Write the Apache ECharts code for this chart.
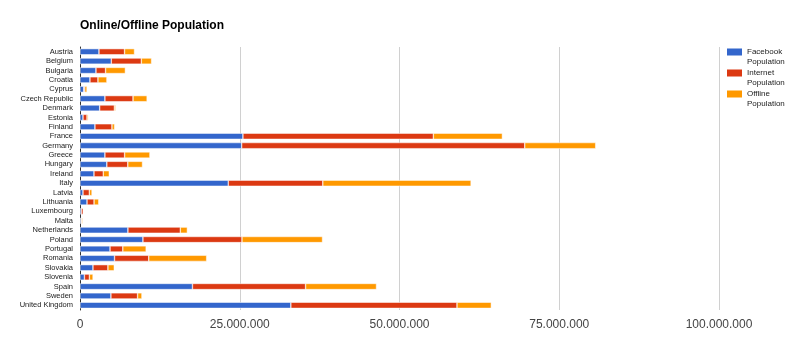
<!DOCTYPE html>
<html>
<head>
<meta charset="utf-8">
<script src="https://cdn.jsdelivr.net/npm/echarts@6/dist/echarts.min.js"></script>
<style>
  html, body { margin: 0; padding: 0; background: #fff; }
  #main { width: 800px; height: 351px; }
</style>
</head>
<body>
<div id="main"></div>
<script>
// values in people
const countries = ['Austria', 'Belgium', 'Bulgaria', 'Croatia', 'Cyprus', 'Czech Republic', 'Denmark',
  'Estonia', 'Finland', 'France', 'Germany', 'Greece', 'Hungary', 'Ireland', 'Italy', 'Latvia',
  'Lithuania', 'Luxembourg', 'Malta', 'Netherlands', 'Poland', 'Portugal', 'Romania', 'Slovakia',
  'Slovenia', 'Spain', 'Sweden', 'United Kingdom'];

const facebook = [2970000, 4900000, 2500000, 1560000, 580000, 3900000, 3080000,
  470000, 2340000, 25500000, 25300000, 3900000, 4200000, 2190000, 23200000, 470000,
  1100000, 200000, 160000, 7500000, 9850000, 4700000, 5400000, 2030000,
  690000, 17600000, 4840000, 33000000];

const internet = [4000000, 4700000, 1500000, 1250000, 160000, 4400000, 2300000,
  630000, 2660000, 29800000, 44300000, 3080000, 3280000, 1450000, 14800000, 990000,
  1100000, 310000, 100000, 8200000, 15500000, 2000000, 5360000, 2340000,
  780000, 17700000, 4170000, 26000000];

const offline = [1560000, 1600000, 3100000, 1400000, 360000, 2200000, 200000,
  200000, 420000, 10800000, 11100000, 3960000, 2300000, 940000, 23200000, 420000,
  730000, 50000, 150000, 1100000, 12600000, 3650000, 9060000, 990000,
  570000, 11100000, 680000, 5370000];

const seriesNames = ['Facebook Population', 'Internet Population', 'Offline Population'];
const colors = ['#3366cc', '#dc3912', '#ff9900'];

function fmt(v) {
  return String(v).replace(/\B(?=(\d{3})+(?!\d))/g, '.');
}

const chart = echarts.init(document.getElementById('main'));

const option = {
  animation: false,
  color: colors,
  title: {
    text: 'Online/Offline Population',
    left: 80,
    top: 20,
    padding: 0,
    textStyle: { fontFamily: 'Liberation Sans, Arial', fontSize: 12, fontWeight: 'bold', color: '#000' }
  },
  legend: {
    orient: 'vertical',
    left: 727,
    top: 47,
    padding: 0,
    itemWidth: 15,
    itemHeight: 17,
    itemGap: 1,
    // swatch sits at the top of the icon box, so it lines up with the first text line
    icon: 'path://M0,0H15V7H0Z M0,17H15V17H0Z',
    itemStyle: { borderWidth: 0 },
    data: seriesNames,
    formatter: name => name.replace(' ', '\n'),
    textStyle: {
      fontFamily: 'Liberation Sans, Arial',
      fontSize: 8,
      lineHeight: 10,
      color: '#222'
    }
  },
  grid: { left: 80, right: 81, top: 47, bottom: 41 },
  xAxis: {
    type: 'value',
    min: 0,
    max: 100000000,
    interval: 25000000,
    axisLine: { show: false },
    axisTick: { show: false },
    axisLabel: {
      formatter: fmt,
      fontFamily: 'Liberation Sans, Arial',
      fontSize: 12,
      color: '#444',
      margin: 9
    },
    splitLine: { lineStyle: { color: '#d0d0d0' } }
  },
  yAxis: {
    type: 'category',
    inverse: true,
    data: countries,
    axisLine: { lineStyle: { color: '#333' } },
    axisTick: { show: false },
    axisLabel: {
      fontFamily: 'Liberation Sans, Arial',
      fontSize: 7.5,
      color: '#222',
      margin: 7,
      interval: 0
    }
  },
  series: [
    { name: seriesNames[0], type: 'bar', stack: 'pop', data: facebook, barCategoryGap: '35%' },
    { name: seriesNames[1], type: 'bar', stack: 'pop', data: internet, barCategoryGap: '35%' },
    { name: seriesNames[2], type: 'bar', stack: 'pop', data: offline, barCategoryGap: '35%' }
  ].map(s => Object.assign(s, { itemStyle: { borderColor: '#fff', borderWidth: 0.5 } }))
};

chart.setOption(option);
</script>
</body>
</html>
